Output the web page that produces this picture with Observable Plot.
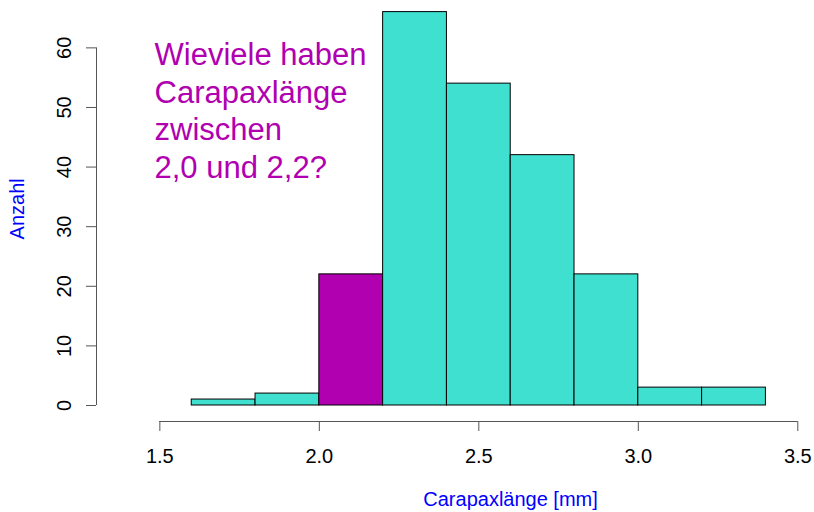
<!DOCTYPE html>
<html>
<head>
<meta charset="utf-8">
<script src="https://cdn.jsdelivr.net/npm/d3@7"></script>
<script src="https://cdn.jsdelivr.net/npm/@observablehq/plot@0.6"></script>
<style>
  html, body { margin: 0; padding: 0; background: #fff; }
  #chart svg { display: block; }
</style>
</head>
<body>
<div id="chart"></div>
<script>
// Data: histogram bins (left edges, right edges) and counts
const binStart = [1.6, 1.8, 2.0, 2.2, 2.4, 2.6, 2.8, 3.0, 3.2];
const binEnd   = [1.8, 2.0, 2.2, 2.4, 2.6, 2.8, 3.0, 3.2, 3.4];
const counts   = [1, 2, 22, 66, 54, 42, 22, 3, 3];
const highlightStart = 2.0;
const xTicks = [1.5, 2.0, 2.5, 3.0, 3.5];
const yTicks = [0, 10, 20, 30, 40, 50, 60];
const xLabel = "Carapaxlänge [mm]";
const yLabel = "Anzahl";
const question = "Wieviele haben\nCarapaxlänge\nzwischen\n2,0 und 2,2?";

const bins = binStart.map((s, i) => ({x1: s, x2: binEnd[i], count: counts[i], hi: s === highlightStart}));

const turquoise = "#40E0D0";
const magenta = "#B000B0";
const axisGray = "#555";
const font = "'Liberation Sans', Arial, Helvetica, sans-serif";

// R-style axes sit outside the data region: extend domains so the frame edges are the axis lines
const xMin = 1.3014, xMax = 3.5;
const yMin = -2.684, yMax = 66;

const chart = Plot.plot({
  width: 814,
  height: 512,
  marginLeft: 96,
  marginRight: 16.7,
  marginTop: 11.6,
  marginBottom: 91,
  style: {fontFamily: font, background: "#fff", overflow: "visible"},
  x: {domain: [xMin, xMax]},
  y: {domain: [yMin, yMax]},
  marks: [
    Plot.rect(bins, {
      x1: "x1", x2: "x2", y1: 0, y2: "count",
      fill: d => d.hi ? magenta : turquoise,
      stroke: "black", strokeWidth: 1
    }),
    // x axis
    Plot.ruleY([yMin], {x1: xTicks[0], x2: xTicks[xTicks.length - 1], stroke: axisGray}),
    Plot.axisX(xTicks, {
      anchor: "bottom", tickSize: 10, tickPadding: 17, fontSize: 20,
      stroke: axisGray, fill: "black",
      tickFormat: d3.format(".1f"), label: null
    }),
    // y axis
    Plot.ruleX([xMin], {y1: yTicks[0], y2: yTicks[yTicks.length - 1], stroke: axisGray}),
    Plot.axisY(yTicks, {
      anchor: "left", tickSize: 10, stroke: axisGray,
      tickFormat: () => "", label: null
    }),
    Plot.text(yTicks, {
      x: () => xMin, y: d => d, text: d => String(d),
      rotate: -90, dx: -32, fontSize: 20, fill: "black", textAnchor: "middle"
    }),
    // axis titles
    Plot.text([yLabel], {
      frameAnchor: "left", text: d => d, rotate: -90,
      dx: -79, dy: -8, fontSize: 20, fill: "#0000FF", textAnchor: "middle"
    }),
    Plot.text([xLabel], {
      frameAnchor: "bottom", text: d => d,
      dx: 63.4, dy: 84, fontSize: 20, fill: "#0000FF", textAnchor: "middle"
    }),
    // annotation
    Plot.text([question], {
      frameAnchor: "top-left", text: d => d,
      dx: 58, dy: 26.4, fontSize: 31, lineHeight: 1.213,
      textAnchor: "start", lineAnchor: "top", fill: magenta
    })
  ]
});

document.getElementById("chart").appendChild(chart);
</script>
</body>
</html>
